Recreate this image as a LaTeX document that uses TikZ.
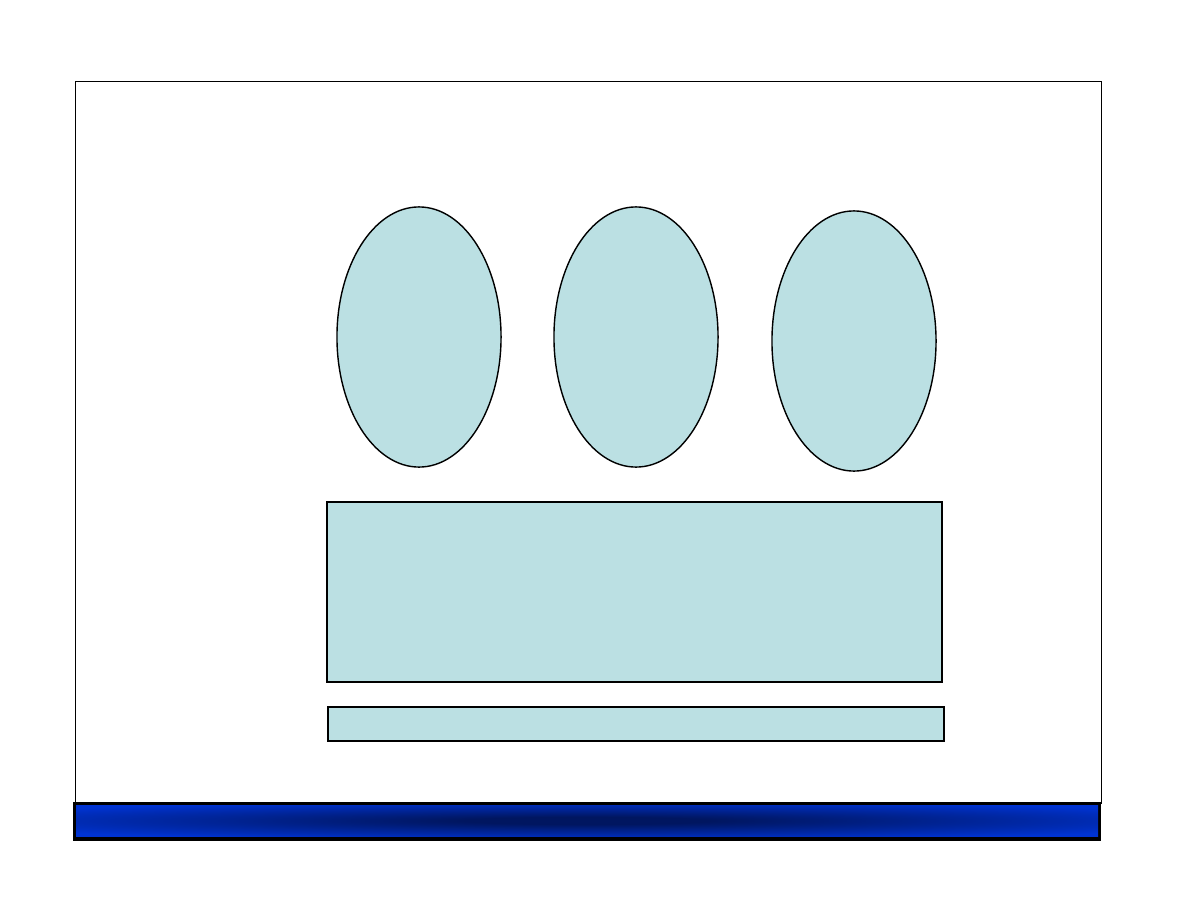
\documentclass[tikz,border=0pt]{standalone}
\usetikzlibrary{shapes.geometric}
\definecolor{paleblue}{RGB}{187,224,227}
\definecolor{barblue}{RGB}{0,51,210}
\definecolor{barnavy}{RGB}{0,22,96}
\pgfdeclareradialshading{barglow}{\pgfpoint{0bp}{0bp}}{color(0bp)=(barnavy);
  color(6bp)=(barnavy); color(32bp)=(barblue); color(100bp)=(barblue)}
\begin{document}
\begin{tikzpicture}[x=0.01cm,y=-0.01cm,
    every node/.style={draw,fill=paleblue,line width=0.4pt,inner sep=0},
    oval/.style={ellipse,minimum width=1.64cm,minimum height=2.6cm}]
  \useasboundingbox (0,0) rectangle (1188,918);
  \draw[line width=0.25pt] (75,804) |- (1101,81) -- (1101,804);
  \node[oval] (o1) at (419,337) {};
  \node[oval] (o2) at (636,337) {};
  \node[oval] (o3) at (854,341) {};
  \node[minimum width=6.15cm,minimum height=1.8cm] (box) at (634.5,592) {};
  \node[minimum width=6.16cm,minimum height=0.34cm] (strip) at (636,724) {};
  % footer bar
  \fill[black] (73,802) rectangle (1101,841);
  \shade[shading=barglow] (76,805) rectangle (1098,836);
\end{tikzpicture}
\end{document}
